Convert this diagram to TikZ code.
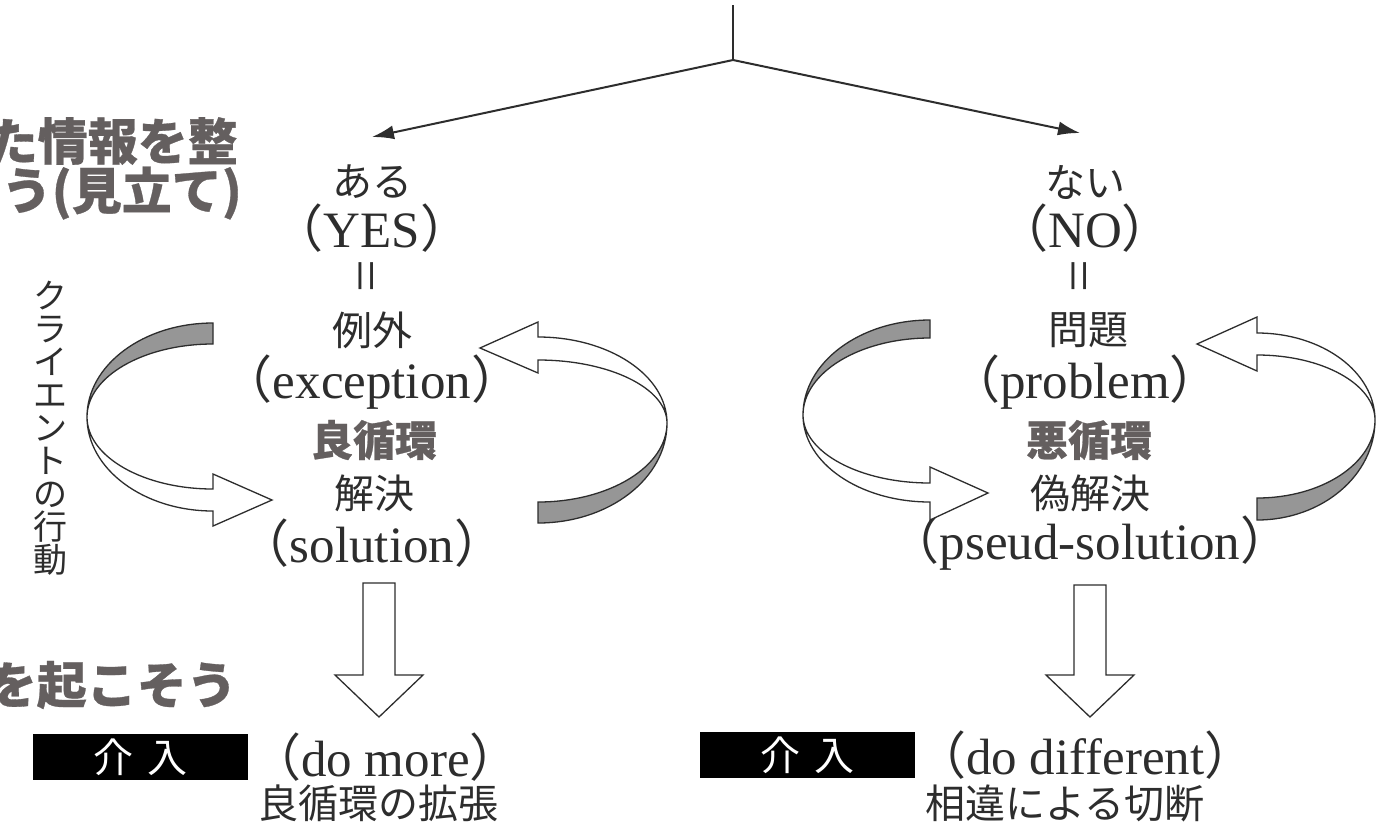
\documentclass[tikz,border=0pt]{standalone}
\usepackage{fontspec}
\usetikzlibrary{arrows.meta}
\setmainfont{Liberation Serif}
\newfontfamily\jp{Noto Sans CJK JP}
\newfontfamily\jpheavy{Noto Sans CJK JP}[BoldFeatures={FakeBold=0.6}]
\definecolor{headgray}{RGB}{100,95,95}
\definecolor{bandgray}{RGB}{150,150,150}
\definecolor{linegray}{RGB}{45,45,45}
\newcommand\jpar[1]{{\jp （}#1{\jp ）}}

\begin{document}
\begin{tikzpicture}[x=1pt, y=-1pt,
  jptext/.style={font=\jp\fontsize{40}{44}\selectfont, inner sep=0pt, text=linegray},
  entext/.style={font=\fontsize{51}{54}\selectfont, inner sep=0pt, text=linegray},
  eqmark/.style={font=\fontsize{58}{58}\selectfont, rotate=90, inner sep=0pt, text=linegray},
  cycletext/.style={font=\jpheavy\bfseries\fontsize{42}{46}\selectfont, inner sep=0pt, text=headgray},
  note/.style={font=\jpheavy\bfseries\fontsize{50}{54}\selectfont, inner sep=0pt, text=headgray, anchor=east},
  vtext/.style={font=\jp\fontsize{34}{33}\selectfont, align=center, inner sep=0pt, text=linegray},
  tag/.style={fill=black, text=white, minimum width=215pt, minimum height=46pt,
              inner sep=0pt, font=\jp\fontsize{40}{44}\selectfont},
  stem/.style={line width=2pt, draw=linegray},
  arr/.style={-{Latex[length=22pt, width=14pt]}, line width=2pt, draw=linegray},
  band/.style={draw=linegray, line width=1.3pt, fill=bandgray},
  ribbon/.style={draw=linegray, line width=1.3pt, fill=white},
  blockarr/.style={draw=linegray, line width=1.3pt, fill=white}
]
\fill[white] (0,0) rectangle (1378,823);
\useasboundingbox (0,0) rectangle (1378,823);

% notes on the left edge
\node[note] (noteA) at (238,141) {た情報を整};
\node[note] (noteB) at (242,193) {う(見立て)};
\node[note] (noteC) at (237,685) {を起こそう};
\node[vtext] (client) at (50,428) {ク\\ラ\\イ\\エ\\ン\\ト\\の\\行\\動};

% fork
\coordinate (root) at (733,5);
\coordinate (fork) at (733,60);
\coordinate (yesTip) at (372,137);
\coordinate (noTip) at (1080,133);
\draw[stem] (root) -- (fork);
\draw[arr] (fork) -- (yesTip);
\draw[arr] (fork) -- (noTip);

% YES column
\node[jptext] (aru) at (372,182) {ある};
\node[entext] (yes) at (372,228) {\jpar{YES}};
\node[eqmark] (eqA) at (372,276) {=};
\node[jptext] (reigai) at (372,330) {例外};
\node[entext] (exc) at (372,382) {\jpar{exception}};
\node[cycletext] (good) at (374,440) {良循環};
\node[jptext] (kaiketsu) at (374,493) {解決};
\node[entext] (sol) at (372,543) {\jpar{solution}};

% NO column
\node[jptext] (nai) at (1085,182) {ない};
\node[entext] (no) at (1085,228) {\jpar{NO}};
\node[eqmark] (eqB) at (1085,276) {=};
\node[jptext] (mondai) at (1088,330) {問題};
\node[entext] (prob) at (1085,382) {\jpar{problem}};
\node[cycletext] (bad) at (1089,440) {悪循環};
\node[jptext] (gikai) at (1090,493) {偽解決};
\node[entext] (pseud) at (1090,543) {\jpar{pseud-solution}};

% good cycle
\draw[band] (213,323) arc[start angle=-90, end angle=-180, x radius=126, y radius=94]
  arc[start angle=180, end angle=270, x radius=126, y radius=73] -- cycle;
\draw[ribbon] (87,417) arc[start angle=180, end angle=90, x radius=126, y radius=94]
  -- (213,526) -- (272,500) -- (213,474) -- (213,489)
  arc[start angle=90, end angle=180, x radius=126, y radius=72] -- cycle;
\draw[ribbon] (667,423) arc[start angle=0, end angle=-90, x radius=129, y radius=86]
  -- (538,322) -- (480,348) -- (538,373) -- (538,360)
  arc[start angle=-90, end angle=0, x radius=129, y radius=63] -- cycle;
\draw[band] (667,423) arc[start angle=0, end angle=90, x radius=129, y radius=100]
  -- (538,502) arc[start angle=90, end angle=0, x radius=129, y radius=79] -- cycle;

% vicious cycle
\draw[band] (930,320) arc[start angle=-90, end angle=-180, x radius=127, y radius=95]
  arc[start angle=180, end angle=270, x radius=127, y radius=77] -- cycle;
\draw[ribbon] (803,415) arc[start angle=180, end angle=90, x radius=127, y radius=87]
  -- (930,520) -- (988,493) -- (930,467) -- (930,483)
  arc[start angle=90, end angle=180, x radius=127, y radius=68] -- cycle;
\draw[ribbon] (1375,420) arc[start angle=0, end angle=-90, x radius=118, y radius=87]
  -- (1257,317) -- (1197,344) -- (1257,371) -- (1257,355)
  arc[start angle=-90, end angle=0, x radius=118, y radius=65] -- cycle;
\draw[band] (1375,420) arc[start angle=0, end angle=90, x radius=118, y radius=100]
  -- (1257,498) arc[start angle=90, end angle=0, x radius=118, y radius=78] -- cycle;

% down arrows
\coordinate (dnA) at (379,583);
\coordinate (dnB) at (1090,585);
\draw[blockarr] (dnA) ++(-16,0) -- ++(32,0) -- ++(0,92) -- ++(28,0) -- ++(-44,42)
  -- ++(-44,-42) -- ++(28,0) -- cycle;
\draw[blockarr] (dnB) ++(-16,0) -- ++(32,0) -- ++(0,90) -- ++(28,0) -- ++(-44,42)
  -- ++(-44,-42) -- ++(28,0) -- cycle;

% interventions
\node[tag] (tagA) at (140,757) {介\hspace{14pt}入};
\node[entext, anchor=west] (more) at (250,757) {\jpar{do more}};
\node[jptext, anchor=west] (expand) at (258,803) {良循環の拡張};
\node[tag] (tagB) at (807,755) {介\hspace{14pt}入};
\node[entext, anchor=west] (diff) at (915,755) {\jpar{do different}};
\node[jptext, anchor=west] (cut) at (925,803) {相違による切断};

\end{tikzpicture}
\end{document}
